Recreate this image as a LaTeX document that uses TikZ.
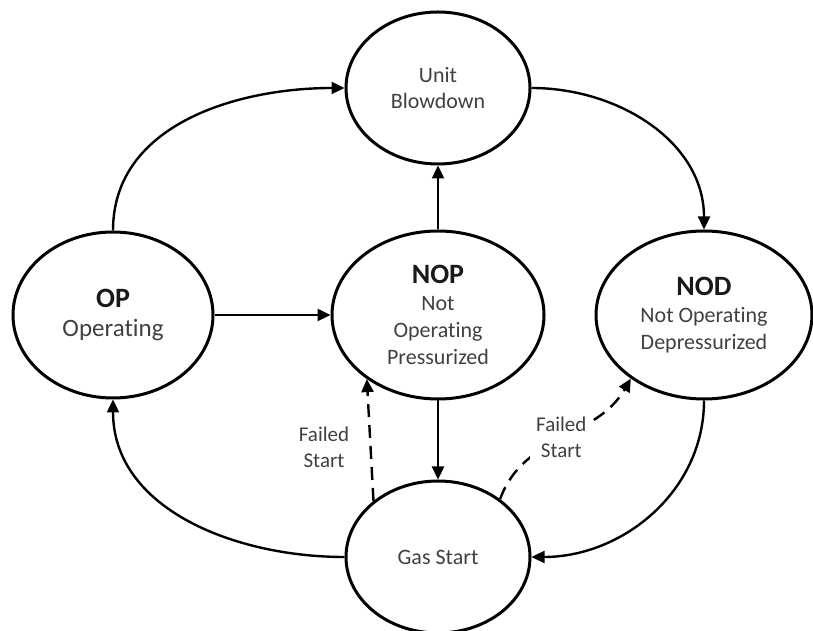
\documentclass[tikz,border=0pt]{standalone}
\usepackage{fontspec}
\setmainfont{Carlito}[Ligatures=NoCommon]
\usepackage{tikz}
\usetikzlibrary{arrows.meta}
\usetikzlibrary{shapes}

\newcommand{\stname}[1]{{\fontsize{14}{16}\selectfont\bfseries\color{black!90}#1}}

\begin{document}
\begin{tikzpicture}[x=0.5pt,y=0.5pt,
  state/.style={ellipse,draw,line width=1.5pt,inner sep=0pt,align=center,
    text=black!75,font=\fontsize{11}{13.4}\selectfont},
  trans/.style={-{Triangle[length=6.5pt,width=6pt]},line width=1.2pt},
  fail/.style={trans,dash pattern=on 6.5pt off 4pt},
  lbl/.style={align=center,text=black!75,font=\fontsize{10.5}{13}\selectfont}]

  \useasboundingbox (0,0) rectangle (813,631);

  % Nodes
  \node[state,minimum width=92pt,minimum height=76pt] (UB) at (438,543) {Unit\\Blowdown};
  \node[state,minimum width=100pt,minimum height=83pt] (OP) at (113,316)
    {\stname{OP}\\[1pt]{\fontsize{12.5}{15}\selectfont Operating}};
  \node[state,minimum width=106pt,minimum height=84pt] (NOP) at (438,316)
    {\stname{NOP}\\Not\\Operating\\Pressurized};
  \node[state,minimum width=108pt,minimum height=84pt] (NOD) at (704,316)
    {\stname{NOD}\\Not Operating\\Depressurized};
  \node[state,minimum width=92pt,minimum height=76pt] (GS) at (438,74) {Gas Start};

  % Transitions
  \draw[trans] (OP.north) to[out=90,in=180] (UB.west);
  \draw[trans] (UB.east) to[out=0,in=90] (NOD.north);
  \draw[trans] (NOP) -- (UB);
  \draw[trans] (OP) -- (NOP);
  \draw[trans] (NOP) -- (GS);
  \draw[trans] (NOD.south) to[out=-90,in=0] (GS.east);
  \draw[trans] (GS.west) to[out=180,in=-90] (OP.south);

  % Failed starts
  \draw[fail] (GS.139) -- (NOP.222);
  \node[lbl] (FS1) at (324,184) {Failed\\Start};
  \draw[fail] (GS.43) to[out=70,in=240] node[lbl,fill=white] (FS2) {Failed\\Start} (NOD.221);
\end{tikzpicture}
\end{document}
